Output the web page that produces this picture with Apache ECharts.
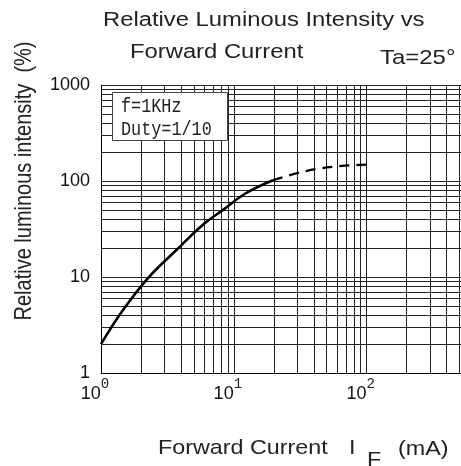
<!DOCTYPE html>
<html><head><meta charset="utf-8">
<script src="https://cdn.jsdelivr.net/npm/echarts@6/dist/echarts.min.js"></script>
<style>html,body{margin:0;padding:0;background:#fff}#c{width:461px;height:466px}</style>
</head><body><div id="c"></div>
<script>
// ---- data ----
const currentSolid = [1, 1.46, 2.25, 3.68, 6.0, 8.3, 12.4, 19.7];
const intensitySolid = [2.0, 4.5, 9.7, 19, 36, 50, 75, 102];
const currentDashed = [19.7, 35, 63, 100];
const intensityDashed = [102, 127, 143, 148];

const xTickValues = [1, 10, 100];
const xTickExponents = ['0', '1', '2'];
const yTickValues = [1, 10, 100, 1000];
const yTickLabels = ['1', '10', '100', '1000'];

const xGridValues = [2,3,4,5,6,7,8,9,10,20,30,40,50,60,70,80,90,100,200,300,400,500];
const yGridValues = [2,3,4,5,6,7,8,9,10,20,30,40,50,60,70,80,90,100,200,300,400,500,600,700,800,900,1000];

const titleLines = ['Relative Luminous Intensity vs', 'Forward Current'];
const conditionText = 'Ta=25°';
const noteLines = ['f=1KHz', 'Duty=1/10'];
const xAxisNameParts = ['Forward Current', 'I', 'F', '(mA)'];
const yAxisName = 'Relative luminous intensity  (%)';

// ---- chart ----
const chart = echarts.init(document.getElementById('c'), null, {renderer: 'canvas'});
const SANS = '"Liberation Sans", Arial, sans-serif';
const MONO = '"Liberation Mono", "DejaVu Sans Mono", monospace';

function findIndex(arr, v) {
  for (let i = 0; i < arr.length; i++) if (Math.abs(arr[i] - v) < 1e-6 * arr[i]) return i;
  return -1;
}

const option = {
  animation: false,
  backgroundColor: '#fff',
  grid: {left: 101, right: 0, top: 85, bottom: 93, containLabel: false},
  xAxis: {
    type: 'log', logBase: 10, min: 1, max: 513,
    splitLine: {show: false}, axisTick: {show: false},
    axisLine: {lineStyle: {color: '#000', width: 1}},
    axisLabel: {
      showMaxLabel: false,
      margin: 4,
      padding: [0, 12, 0, 0],
      formatter: function (v) {
        const i = findIndex(xTickValues, v);
        if (i < 0) return '';
        return '{b|10}{s|' + xTickExponents[i] + '}';
      },
      rich: {
        b: {fontFamily: SANS, fontSize: 18, color: '#111', verticalAlign: 'bottom', lineHeight: 26},
        s: {fontFamily: MONO, fontSize: 14, color: '#222', verticalAlign: 'top', lineHeight: 26}
      }
    }
  },
  yAxis: {
    type: 'log', logBase: 10, min: 1, max: 1000,
    splitLine: {show: false}, axisTick: {show: false},
    axisLine: {lineStyle: {color: '#000', width: 1}},
    axisLabel: {
      margin: 11, fontFamily: SANS, fontSize: 18, color: '#111',
      formatter: function (v) {
        const i = findIndex(yTickValues, v);
        return i < 0 ? '' : yTickLabels[i];
      }
    }
  },
  series: [
    {
      type: 'line', data: [], silent: true, z: 1,
      markLine: {
        silent: true, animation: false, symbol: ['none', 'none'],
        label: {show: false},
        lineStyle: {color: '#222', width: 1, type: 'solid'},
        emphasis: {disabled: true},
        data: xGridValues.map(v => ({xAxis: v})).concat(yGridValues.map(v => ({yAxis: v})))
      }
    },
    {
      type: 'line', z: 5, smooth: 0.4, showSymbol: false, silent: true,
      data: currentSolid.map((x, i) => [x, intensitySolid[i]]),
      lineStyle: {color: '#000', width: 2.6}
    },
    {
      type: 'line', z: 5, smooth: 0.4, showSymbol: false, silent: true,
      data: currentDashed.map((x, i) => [x, intensityDashed[i]]),
      lineStyle: {color: '#000', width: 2.3, type: [10, 7]}
    }
  ],
  graphic: [
    {type: 'text', x: 103, y: 20.5, scaleX: 1.19, silent: true,
     style: {text: titleLines[0], font: '20px ' + SANS, fill: '#222', align: 'left', verticalAlign: 'middle'}},
    {type: 'text', x: 130, y: 52, scaleX: 1.19, silent: true,
     style: {text: titleLines[1], font: '20px ' + SANS, fill: '#222', align: 'left', verticalAlign: 'middle'}},
    {type: 'text', x: 380, y: 58, scaleX: 1.14, silent: true,
     style: {text: conditionText, font: '21px ' + SANS, fill: '#222', align: 'left', verticalAlign: 'middle'}},
    {type: 'rect', z: 10, silent: true, shape: {x: 112.5, y: 92.5, width: 115, height: 48},
     style: {fill: '#fff', stroke: '#444', lineWidth: 1}},
    {type: 'text', z: 11, x: 121, y: 107, scaleX: 0.84, silent: true,
     style: {text: noteLines[0], font: '20px ' + MONO, fill: '#222', align: 'left', verticalAlign: 'middle'}},
    {type: 'text', z: 11, x: 121, y: 130, scaleX: 0.84, silent: true,
     style: {text: noteLines[1], font: '20px ' + MONO, fill: '#222', align: 'left', verticalAlign: 'middle'}},
    {type: 'text', x: 158, y: 448, scaleX: 1.11, silent: true,
     style: {text: xAxisNameParts[0], font: '21px ' + SANS, fill: '#222', align: 'left', verticalAlign: 'middle'}},
    {type: 'text', x: 349, y: 448, scaleX: 1.11, silent: true,
     style: {text: xAxisNameParts[1], font: '21px ' + SANS, fill: '#222', align: 'left', verticalAlign: 'middle'}},
    {type: 'text', x: 367, y: 460, scaleX: 1.11, silent: true,
     style: {text: xAxisNameParts[2], font: '21px ' + SANS, fill: '#222', align: 'left', verticalAlign: 'middle'}},
    {type: 'text', x: 398, y: 449, scaleX: 1.11, silent: true,
     style: {text: xAxisNameParts[3], font: '21px ' + SANS, fill: '#222', align: 'left', verticalAlign: 'middle'}},
    {type: 'text', x: 24, y: 181, rotation: Math.PI / 2, scaleY: 1.2, silent: true,
     style: {text: yAxisName, font: '20px ' + SANS, fill: '#222', align: 'center', verticalAlign: 'middle'}}
  ]
};
chart.setOption(option);
</script>
</body></html>
